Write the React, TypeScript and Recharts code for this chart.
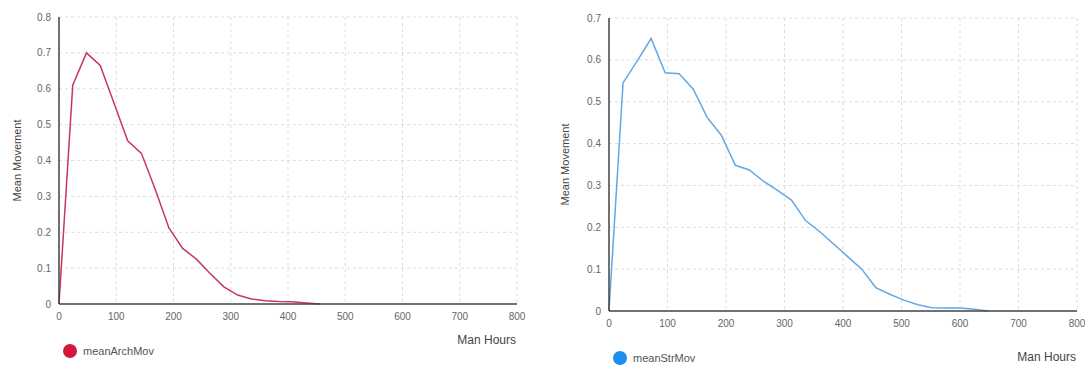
import React from 'react';
import {
  LineChart,
  Line,
  XAxis,
  YAxis,
  CartesianGrid,
  Label,
} from 'recharts';

const ARCH_HOURS = [0, 24, 48, 72, 96, 120, 144, 168, 192, 216, 240, 264, 288, 312, 336, 360, 384, 408, 432, 456];
const ARCH_MOV = [0, 0.61, 0.7, 0.665, 0.56, 0.455, 0.42, 0.32, 0.212, 0.155, 0.125, 0.085, 0.048, 0.025, 0.014, 0.009, 0.007, 0.006, 0.003, 0];

const STR_HOURS = [0, 24, 48, 72, 96, 120, 144, 168, 192, 216, 240, 264, 288, 312, 336, 360, 384, 408, 432, 456, 480, 504, 528, 552, 576, 600, 624, 648];
const STR_MOV = [0, 0.545, 0.597, 0.651, 0.569, 0.567, 0.53, 0.462, 0.42, 0.348, 0.337, 0.31, 0.288, 0.265, 0.216, 0.19, 0.16, 0.13, 0.1, 0.056, 0.04, 0.026, 0.015, 0.008, 0.007, 0.007, 0.004, 0];

const X_TICKS = [0, 100, 200, 300, 400, 500, 600, 700, 800];
const ARCH_Y_TICKS = [0, 0.1, 0.2, 0.3, 0.4, 0.5, 0.6, 0.7, 0.8];
const STR_Y_TICKS = [0, 0.1, 0.2, 0.3, 0.4, 0.5, 0.6, 0.7];

const archData = ARCH_HOURS.map((h, i) => ({ hours: h, meanArchMov: ARCH_MOV[i] }));
const strData = STR_HOURS.map((h, i) => ({ hours: h, meanStrMov: STR_MOV[i] }));

const FONT = '"Liberation Sans", Arial, sans-serif';
const tickStyle = { fontSize: 10, fill: '#666', fontFamily: FONT };

function LegendItem({ color, name, left, top }: any) {
  return (
    <div
      style={{
        position: 'absolute',
        left,
        top,
        display: 'flex',
        alignItems: 'center',
        gap: 6,
        fontFamily: FONT,
        fontSize: 11,
        color: '#555',
      }}
    >
      <div style={{ width: 14, height: 14, borderRadius: '50%', backgroundColor: color }} />
      <span>{name}</span>
    </div>
  );
}

function MovChart({ data, dataKey, color, yTicks, yMax, width, height, margin, xHeight, yLabelOffset }: any) {
  return (
    <LineChart width={width} height={height} data={data} margin={margin}>
      <CartesianGrid strokeDasharray="3 3" stroke="#ddd" />
      <XAxis
        dataKey="hours"
        type="number"
        domain={[0, 800]}
        ticks={X_TICKS}
        tick={tickStyle}
        tickLine={false}
        tickSize={6}
        tickMargin={3}
        height={xHeight}
        axisLine={{ stroke: '#444', strokeWidth: 1.5 }}
      >
        <Label
          value="Man Hours"
          position="insideBottomRight"
          offset={1}
          style={{ fontSize: 12, fill: '#444', fontFamily: FONT }}
        />
      </XAxis>
      <YAxis
        type="number"
        domain={[0, yMax]}
        ticks={yTicks}
        tick={tickStyle}
        tickLine={false}
        width={59}
        axisLine={{ stroke: '#444', strokeWidth: 1.5 }}
      >
        <Label
          value="Mean Movement"
          angle={-90}
          position="insideLeft"
          offset={yLabelOffset}
          style={{ textAnchor: 'middle', fontSize: 11, fill: '#444', fontFamily: FONT }}
        />
      </YAxis>
      <Line
        type="linear"
        dataKey={dataKey}
        stroke={color}
        strokeWidth={1.5}
        dot={false}
        isAnimationActive={false}
      />
    </LineChart>
  );
}

export default function App() {
  return (
    <div style={{ position: 'absolute', left: 0, top: 0, width: 1085, height: 367, background: '#fff' }}>
      <div style={{ position: 'absolute', left: 0, top: 0 }}>
        <MovChart
          data={archData}
          dataKey="meanArchMov"
          color="#c9375c"
          yTicks={ARCH_Y_TICKS}
          yMax={0.8}
          width={530}
          height={367}
          margin={{ top: 17, right: 13, left: 0, bottom: 22 }}
          xHeight={41}
          yLabelOffset={17}
        />
      </div>
      <div style={{ position: 'absolute', left: 550, top: 0 }}>
        <MovChart
          data={strData}
          dataKey="meanStrMov"
          color="#62a8e4"
          yTicks={STR_Y_TICKS}
          yMax={0.7}
          width={535}
          height={367}
          margin={{ top: 18, right: 8, left: 0, bottom: 5 }}
          xHeight={51}
          yLabelOffset={15}
        />
      </div>
      <LegendItem color="#d4173f" name="meanArchMov" left={63} top={344} />
      <LegendItem color="#1e8ff0" name="meanStrMov" left={613} top={351} />
    </div>
  );
}
